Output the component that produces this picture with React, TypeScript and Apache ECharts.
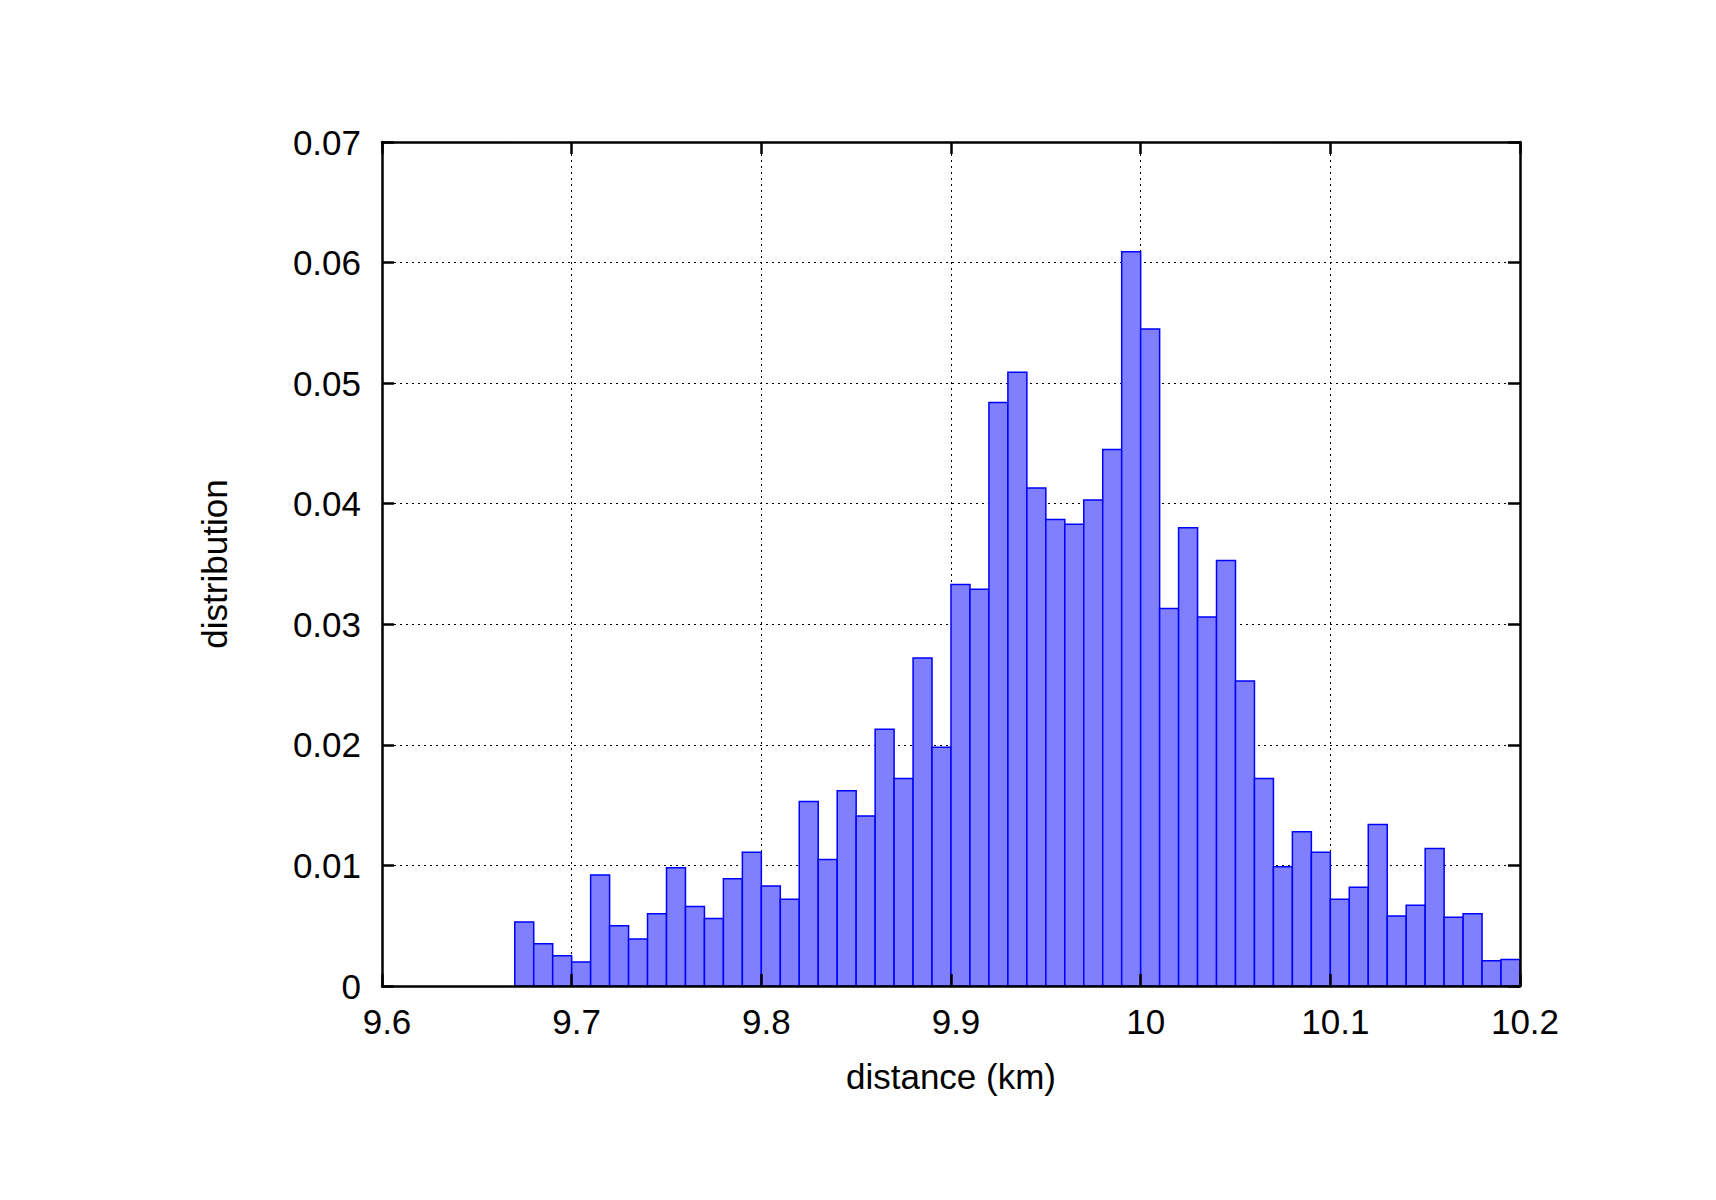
import React, { useEffect, useRef } from "react";
import * as echarts from "echarts";

const binStarts = [
  9.67, 9.68, 9.69, 9.7, 9.71, 9.72, 9.73, 9.74, 9.75, 9.76, 9.77, 9.78, 9.79,
  9.8, 9.81, 9.82, 9.83, 9.84, 9.85, 9.86, 9.87, 9.88, 9.89, 9.9, 9.91, 9.92,
  9.93, 9.94, 9.95, 9.96, 9.97, 9.98, 9.99, 10.0, 10.01, 10.02, 10.03, 10.04,
  10.05, 10.06, 10.07, 10.08, 10.09, 10.1, 10.11, 10.12, 10.13, 10.14, 10.15,
  10.16, 10.17, 10.18, 10.19,
];
const binWidth = 0.01;
const distribution = [
  0.0053, 0.0035, 0.0025, 0.002, 0.0092, 0.005, 0.0039, 0.006, 0.0098, 0.0066,
  0.0056, 0.0089, 0.0111, 0.0083, 0.0072, 0.0153, 0.0105, 0.0162, 0.0141,
  0.0213, 0.0172, 0.0272, 0.0198, 0.0333, 0.0329, 0.0484, 0.0509, 0.0413,
  0.0387, 0.0383, 0.0403, 0.0445, 0.0609, 0.0545, 0.0313, 0.038, 0.0306,
  0.0353, 0.0253, 0.0172, 0.0099, 0.0128, 0.0111, 0.0072, 0.0082, 0.0134,
  0.0058, 0.0067, 0.0114, 0.0057, 0.006, 0.0021, 0.0022,
];
const xTickLabels = ["9.6", "9.7", "9.8", "9.9", "10", "10.1", "10.2"];
const yTickLabels = ["0", "0.01", "0.02", "0.03", "0.04", "0.05", "0.06", "0.07"];
const xTitle = "distance (km)";
const yTitle = "distribution";

const FONT = "'Liberation Sans', Arial, Helvetica, sans-serif";
const FS = 35;

export default function App() {
  const ref = useRef<HTMLDivElement>(null);
  useEffect(() => {
    if (!ref.current) return;
    const chart = echarts.init(ref.current, undefined, { renderer: "svg" });
    const xMin = 9.6, xMax = 10.2, xInt = 0.1;
    const yMin = 0, yMax = 0.07, yInt = 0.01;
    const nearestLabel = (labels: string[], min: number, step: number) => (v: number) => {
      const i = Math.round((v - min) / step);
      return labels[i] ?? "";
    };
    const frameX = (position: string) => ({
      type: "value",
      position,
      min: xMin,
      max: xMax,
      interval: xInt,
      z: 5,
      axisLine: { show: true, onZero: false, lineStyle: { color: "#000", width: 2.5 } },
      axisTick: { show: true, inside: true, length: 12, lineStyle: { color: "#000", width: 2.5 } },
      axisLabel: { show: false },
      splitLine: { show: false },
    });
    const frameY = (position: string) => ({
      type: "value",
      position,
      min: yMin,
      max: yMax,
      interval: yInt,
      z: 5,
      axisLine: { show: true, onZero: false, lineStyle: { color: "#000", width: 2.5 } },
      axisTick: { show: true, inside: true, length: 12, lineStyle: { color: "#000", width: 2.5 } },
      axisLabel: { show: false },
      splitLine: { show: false },
    });
    const data = binStarts.map((s, i) => [s, distribution[i], s + binWidth]);
    chart.setOption({
      animation: false,
      backgroundColor: "#fff",
      grid: { left: 382, right: 196, top: 142, bottom: 214, containLabel: false },
      xAxis: [
        {
          type: "value",
          position: "bottom",
          min: xMin,
          max: xMax,
          interval: xInt,
          z: 0,
          name: xTitle,
          nameLocation: "middle",
          nameGap: 73,
          nameTextStyle: { color: "#000", fontSize: FS, fontFamily: FONT },
          axisLine: { show: false },
          axisTick: { show: false },
          axisLabel: {
            color: "#000",
            fontSize: FS,
            fontFamily: FONT,
            margin: 18,
            padding: [0, 0, 0, 10],
            formatter: nearestLabel(xTickLabels, xMin, xInt),
          },
          splitLine: { show: true, lineStyle: { color: "#000", width: 1, type: [2, 4] } },
        },
        frameX("bottom"),
        frameX("top"),
      ],
      yAxis: [
        {
          type: "value",
          position: "left",
          min: yMin,
          max: yMax,
          interval: yInt,
          z: 0,
          name: yTitle,
          nameLocation: "middle",
          nameRotate: 90,
          nameGap: 150,
          nameTextStyle: { color: "#000", fontSize: FS, fontFamily: FONT },
          axisLine: { show: false },
          axisTick: { show: false },
          axisLabel: {
            color: "#000",
            fontSize: FS,
            fontFamily: FONT,
            margin: 21,
            formatter: nearestLabel(yTickLabels, yMin, yInt),
          },
          splitLine: { show: true, lineStyle: { color: "#000", width: 1, type: [2, 4] } },
        },
        frameY("left"),
        frameY("right"),
      ],
      series: [
        {
          type: "custom",
          xAxisIndex: 0,
          yAxisIndex: 0,
          z: 2,
          encode: { x: [0, 2], y: 1 },
          data,
          renderItem: (params: any, api: any) => {
            const x0 = api.value(0);
            const x1 = api.value(2);
            const v = api.value(1);
            const p0 = api.coord([x0, 0]);
            const p1 = api.coord([x1, v]);
            return {
              type: "rect",
              shape: { x: p0[0], y: p1[1], width: p1[0] - p0[0], height: p0[1] - p1[1] },
              style: { fill: "#8080ff", stroke: "#0000ff", lineWidth: 1.5 },
            };
          },
        },
      ],
    });
    return () => chart.dispose();
  }, []);
  return (
    <div
      ref={ref}
      style={{ position: "absolute", left: 0, top: 0, width: 1716, height: 1200, background: "#fff" }}
    />
  );
}
